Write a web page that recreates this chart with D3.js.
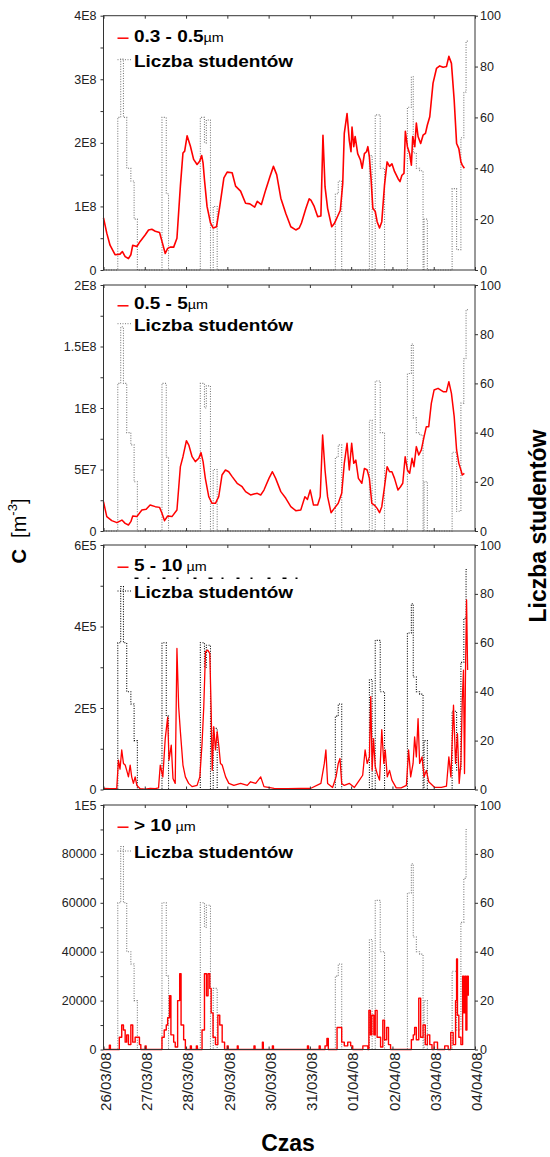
<!DOCTYPE html>
<html>
<head>
<meta charset="utf-8">
<script src="https://cdn.jsdelivr.net/npm/d3@7"></script>
<style>
  body { margin: 0; background: #fff; }
  text { font-family: Arial, "Liberation Sans", sans-serif; }
</style>
</head>
<body>
<svg id="chart" width="550" height="1157"></svg>
<script>
// Stezenie czastek i liczba studentow, 26/03/08 - 04/04/08

// os czasu
var dayLabels = ["26/03/08", "27/03/08", "28/03/08", "29/03/08", "30/03/08",
                 "31/03/08", "01/04/08", "02/04/08", "03/04/08", "04/04/08"];

// liczba studentow (godziny od 26/03/08 00:00, schodkowo)
var studentHours = [0, 8.3, 10.0, 11.6, 13.5, 15.9, 17.8, 19.7,
                    34.0, 36.5, 37.8,
                    56.3, 58.7, 59.8, 62.2, 63.8, 66.1,
                    134.8, 136.5, 138.5,
                    154.6, 156.2, 158.0, 160.9, 163.4,
                    176.7, 179.0, 180.1, 181.9, 183.8, 185.8, 186.4, 188.3,
                    202.7, 205.3, 207.8, 209.5, 210.8, 211.8];
var studentCount = [0, 60, 83, 60, 40, 35, 20, 0,
                    60, 30, 0,
                    60, 50, 59, 0, 25, 0,
                    30, 35, 0,
                    45, 0, 61, 40, 0,
                    64, 76, 46, 40, 39, 0, 20, 0,
                    32, 8, 52, 70, 90, 90];

// 0.3 - 0.5 um  [x 1E8 m-3]
var hours03 = [0, 1.9, 3.8, 6.7, 9.6, 11.0, 12.6, 14.5, 15.9, 17.0, 19.4, 21.3, 24.2, 26.2, 28.1, 30.1,
  32.6, 34.0, 35.9, 37.3, 38.8, 40.8, 42.7, 44.7, 46.2, 47.2, 48.6, 50.5, 52.4, 54.4, 55.9, 57.1,
  57.9, 58.7, 60.2, 62.2, 63.8, 65.7, 67.6, 70.0, 71.9, 74.8, 76.8, 79.7, 82.6, 85.1, 87.9, 89.4,
  91.8, 94.3, 96.8, 98.8, 100.7, 103.1, 106.0, 108.9, 111.8, 113.8, 115.1, 117.7, 119.6, 120.6,
  122.5, 124.5, 126.4, 127.6, 128.8, 130.3, 132.7, 134.2, 136.2, 137.7, 139.1, 140.0, 141.6, 142.9,
  143.9, 144.5, 145.5, 146.3, 147.8, 149.4, 150.4, 151.7, 152.9, 153.7, 154.6, 155.6, 156.6, 158.0,
  159.1, 160.5, 161.8, 163.4, 164.9, 166.3, 167.7, 169.2, 171.2, 172.4, 173.5, 174.7, 175.5, 176.7,
  178.0, 179.0, 179.8, 181.0, 181.9, 182.9, 184.4, 185.8, 187.2, 188.3, 189.7, 191.6, 193.6, 195.5,
  197.5, 199.4, 200.8, 202.3, 203.9, 205.3, 206.6, 207.8, 208.6, 209.8];
var conc03 = [0.82, 0.58, 0.39, 0.24, 0.25, 0.29, 0.21, 0.18, 0.24, 0.39, 0.37, 0.45, 0.55, 0.63, 0.64, 0.61,
  0.59, 0.45, 0.26, 0.34, 0.36, 0.36, 0.50, 1.32, 1.84, 1.87, 2.11, 1.95, 1.74, 1.66, 1.71, 1.80,
  1.68, 1.42, 1.00, 0.74, 0.66, 0.68, 1.00, 1.45, 1.54, 1.53, 1.32, 1.24, 1.05, 1.04, 0.99, 1.08,
  1.03, 1.26, 1.47, 1.63, 1.50, 1.13, 0.89, 0.68, 0.63, 0.66, 0.74, 0.97, 1.12, 1.10,
  1.00, 0.84, 0.85, 2.12, 1.31, 0.97, 0.68, 0.73, 0.85, 0.94, 1.36, 2.15, 2.46, 2.04,
  1.86, 2.25, 1.94, 2.10, 1.83, 1.73, 1.60, 1.83, 1.86, 1.94, 1.78, 1.42, 0.97, 0.92,
  0.76, 0.66, 0.76, 1.34, 1.70, 1.63, 1.67, 1.55, 1.44, 1.39, 1.49, 1.52, 2.18, 1.94,
  1.83, 1.65, 2.10, 1.94, 2.31, 2.10, 1.99, 2.12, 2.15, 2.28, 2.41, 2.94, 3.17, 3.21,
  3.19, 3.20, 3.36, 3.25, 2.67, 1.99, 1.91, 1.70, 1.65, 1.60];

// 0.5 - 5 um  [x 1E7 m-3]
var hours05 = [0, 1.9, 4.8, 7.8, 10.7, 12.6, 14.5, 15.9, 17.0, 19.4, 22.3, 24.8, 27.1, 30.1, 32.6, 34.0,
  35.5, 37.3, 39.8, 42.7, 44.7, 46.2, 48.2, 49.6, 51.5, 53.4, 55.4, 56.7, 57.9, 59.2, 61.2, 63.1,
  65.1, 67.0, 68.9, 70.9, 72.8, 74.8, 77.7, 80.6, 82.6, 85.5, 87.5, 89.4, 91.4, 93.3, 96.2, 98.2,
  100.1, 103.1, 106.0, 108.9, 111.8, 114.7, 117.1, 118.6, 120.2, 122.1, 124.5, 126.0, 127.4, 128.8,
  130.3, 132.3, 134.2, 136.5, 138.5, 140.0, 141.6, 142.9, 144.3, 145.5, 146.7, 148.2, 150.2, 151.7,
  153.3, 154.6, 156.0, 157.5, 159.1, 160.5, 161.8, 163.4, 164.9, 166.3, 167.7, 169.2, 171.2, 172.7,
  174.0, 175.4, 176.7, 178.0, 179.4, 180.5, 181.9, 183.3, 184.8, 186.4, 187.7, 189.1, 190.6, 192.2,
  194.5, 197.5, 199.4, 200.8, 202.3, 203.9, 205.3, 206.6, 207.8, 208.6, 209.8];
var conc05 = [2.38, 1.17, 0.84, 0.68, 0.89, 0.62, 0.49, 0.76, 1.22, 1.17, 1.71, 1.76, 2.11, 1.98, 1.92, 1.44,
  0.84, 1.22, 1.17, 1.71, 5.23, 6.04, 7.34, 6.99, 6.04, 5.64, 5.91, 6.37, 5.64, 4.28, 2.79, 2.25,
  2.25, 2.79, 4.55, 4.96, 4.82, 4.42, 3.88, 3.60, 3.20, 2.93, 3.01, 3.06, 2.93, 3.33, 4.28, 4.82,
  4.28, 3.20, 2.66, 1.98, 1.65, 1.71, 2.79, 2.57, 3.33, 2.11, 2.11, 2.79, 7.80, 4.96,
  2.79, 1.49, 1.84, 2.25, 3.06, 5.50, 7.13, 4.96, 7.13, 5.50, 5.77, 4.28, 3.88, 5.09,
  4.96, 4.28, 2.25, 2.11, 1.84, 1.49, 1.98, 3.60, 5.23, 4.82, 4.82, 4.28, 3.33, 3.60,
  3.88, 6.04, 4.96, 4.69, 5.91, 5.23, 6.86, 6.18, 6.59, 7.67, 8.48, 8.48, 10.38, 11.46,
  11.60, 11.33, 11.33, 12.14, 11.19, 9.30, 6.59, 5.50, 4.96, 4.55, 4.69];

// 5 - 10 um  [x 1E5 m-3]
var hours510 = [0, 3.8, 7.7, 8.7, 9.6, 10.6, 11.6, 12.6, 13.5, 14.5, 15.5, 16.4, 17.4, 18.4, 19.4, 21.3,
  24.2, 27.2, 30.1, 32.0, 33.0, 34.5, 35.9, 37.3, 38.1, 39.4, 40.4, 41.7, 42.7, 43.7, 44.7, 46.2,
  47.6, 49.5, 51.5, 54.4, 56.0, 57.3, 58.3, 59.3, 60.6, 61.8, 62.6, 63.2, 64.1, 65.1, 66.1, 67.1,
  68.0, 69.0, 71.0, 72.9, 75.8, 79.7, 83.6, 85.5, 88.5, 91.4, 93.3, 99.2, 106.9, 114.7, 120.6,
  126.4, 128.4, 129.3, 130.3, 133.2, 135.2, 136.5, 137.5, 138.5, 140.0, 143.0, 145.9, 148.8, 150.7,
  152.1, 153.3, 154.6, 155.4, 156.2, 157.0, 158.0, 159.1, 160.5, 161.8, 163.0, 163.8, 165.0, 166.3,
  167.7, 170.2, 173.1, 176.1, 177.4, 178.6, 180.0, 180.9, 181.9, 182.9, 183.8, 185.2, 186.4, 187.7,
  189.1, 192.6, 196.5, 199.4, 200.8, 202.0, 203.5, 204.7, 205.8, 206.8, 207.8, 208.6, 209.3, 209.9,
  210.5, 211.1, 211.7];
var conc510 = [0.03, 0.02, 0.03, 0.72, 0.50, 0.97, 0.64, 0.60, 0.47, 0.31, 0.60, 0.31, 0.15, 0.31, 0.10, 0.02,
  0.01, 0.03, 0.02, 0.04, 0.60, 0.31, 1.25, 1.77, 0.72, 1.09, 0.27, 0.15, 3.46, 2.03, 1.42, 0.60,
  0.31, 0.15, 0.07, 0.10, 0.31, 1.13, 2.03, 3.38, 3.42, 3.34, 1.95, 0.47, 1.54, 0.97, 1.42, 1.05,
  0.64, 0.60, 0.31, 0.15, 0.10, 0.15, 0.10, 0.19, 0.15, 0.31, 0.07, 0.03, 0.02, 0.03, 0.03,
  0.15, 0.64, 0.97, 0.15, 0.05, 0.31, 0.64, 0.76, 0.15, 0.10, 0.15, 0.05, 0.23, 0.35,
  0.97, 0.64, 0.80, 2.28, 0.47, 1.25, 0.56, 0.39, 0.23, 1.47, 0.64, 0.97, 0.31, 0.47,
  0.23, 0.04, 0.04, 0.10, 0.97, 0.31, 0.64, 1.29, 0.80, 1.74, 0.64, 0.80, 0.31, 0.47,
  0.19, 0.05, 0.05, 0.08, 0.80, 0.31, 2.07, 0.64, 1.37, 0.15, 0.64, 2.19, 2.93, 0.39,
  2.97, 4.65, 2.93];

// > 10 um  [x 1000 m-3]
var hours10 = [0, 2.8, 3.4, 4.0, 8.7, 9.2, 10.6, 11.6, 12.6, 13.5, 14.5, 15.9, 17.0, 18.4, 19.8, 20.9,
  21.7, 24.2, 24.8, 33.0, 34.0, 35.3, 36.5, 37.3, 38.4, 39.2, 40.8, 41.7, 43.1, 44.3, 45.1, 46.6,
  47.6, 50.5, 51.1, 54.0, 54.6, 56.7, 57.3, 58.7, 59.9, 60.8, 61.8, 62.6, 63.7, 65.1, 66.5, 67.6,
  69.0, 70.4, 71.9, 72.5, 77.8, 78.3, 87.5, 88.1, 92.4, 92.9, 98.2, 98.8, 118.6, 119.2,
  125.4, 126.0, 128.8, 129.9, 130.7, 135.2, 135.8, 137.3, 138.5, 140.0, 142.0, 143.7, 144.9,
  150.8, 152.7, 153.7, 154.3, 155.2, 156.0, 157.2, 158.0, 159.1, 159.9, 161.1, 162.4, 163.4, 164.6,
  165.7, 166.9, 178.0, 179.0, 180.1, 180.9, 181.9, 183.3, 184.4, 185.8, 187.1, 188.3, 189.7, 191.0,
  192.2, 193.6, 194.2, 198.4, 199.6, 200.4, 201.9, 203.3, 204.7, 205.3, 205.8, 206.6, 207.8, 208.8,
  209.5, 210.1, 210.7, 211.3, 212.1];
var conc10 = [0, 0, 1.8, 0, 0, 5, 10, 8, 3, 6, 2, 10, 3, 5, 5, 2,
  0, 1.5, 0, 0, 5, 8, 10, 13, 22, 6, 3, 1, 20, 31, 10, 4,
  0, 1.5, 0, 1.5, 0, 0, 8, 31, 22, 31, 25, 15, 5, 2, 14, 10,
  3, 0, 1.5, 0, 1.5, 0, 1.5, 0, 3, 0, 1.5, 0, 1.5, 0,
  1.5, 0, 1.5, 4.5, 0, 0, 9, 9, 3, 1.5, 3, 1.5, 0,
  1.5, 1.5, 0, 16, 6, 14, 6, 16, 5, 5, 1, 12, 4, 9,
  2, 0, 0, 4, 6, 9, 4, 21, 5, 10, 2, 6, 2, 0,
  3, 3, 0, 1.5, 1.5, 0, 7, 2, 20, 37, 14, 5, 2, 30,
  15, 30, 8, 30, 22];

// osie lewe
var ticks03 = [0, 1e8, 2e8, 3e8, 4e8], labels03 = ["0", "1E8", "2E8", "3E8", "4E8"];
var ticks05 = [0, 5e7, 1e8, 1.5e8, 2e8], labels05 = ["0", "5E7", "1E8", "1.5E8", "2E8"];
var ticks510 = [0, 2e5, 4e5, 6e5], labels510 = ["0", "2E5", "4E5", "6E5"];
var ticks10 = [0, 2e4, 4e4, 6e4, 8e4, 1e5], labels10 = ["0", "20000", "40000", "60000", "80000", "1E5"];
var studentTicks = [0, 20, 40, 60, 80, 100];

var panels = [
  { hours: hours03, values: conc03, unit: 1e8, max: 4e8, ticks: ticks03, labels: labels03,
    name: "0.3 - 0.5", nameGap: "", top: 15.7, bottom: 270, studColor: "#7a7a7a", curve: d3.curveLinear, width: 1.6 },
  { hours: hours05, values: conc05, unit: 1e7, max: 2e8, ticks: ticks05, labels: labels05,
    name: "0.5 - 5", nameGap: "", top: 285, bottom: 531, studColor: "#7a7a7a", curve: d3.curveLinear, width: 1.5 },
  { hours: hours510, values: conc510, unit: 1e5, max: 6e5, ticks: ticks510, labels: labels510,
    name: "5 - 10", nameGap: " ", top: 545, bottom: 789.5, studColor: "#000", curve: d3.curveLinear, width: 1.3 },
  { hours: hours10, values: conc10, unit: 1e3, max: 1e5, ticks: ticks10, labels: labels10,
    name: "> 10", nameGap: " ", top: 805, bottom: 1049.5, studColor: "#7a7a7a", curve: d3.curveStepAfter, width: 1.4 }
];

var svg = d3.select("#chart");
var left = 103.5, right = 475;
var t0 = new Date(Date.UTC(2008, 2, 26)), t1 = new Date(Date.UTC(2008, 3, 4));
function toDate(h) { return new Date(t0.getTime() + h * 3600e3); }

var x = d3.scaleUtc().domain([t0, t1]).range([left, right]);
var days = d3.utcDay.range(t0, d3.utcDay.offset(t1, 1));

panels.forEach(function(p, i) {
  var y = d3.scaleLinear().domain([0, p.max]).range([p.bottom, p.top]);
  var yS = d3.scaleLinear().domain([0, 100]).range([p.bottom, p.top]);
  var g = svg.append("g");

  // liczba studentow
  var studLine = d3.line()
      .curve(d3.curveStepAfter)
      .x(function(d, k) { return x(toDate(studentHours[k])); })
      .y(function(d) { return yS(d); });
  g.append("path")
      .attr("d", studLine(studentCount))
      .attr("fill", "none")
      .attr("stroke", p.studColor)
      .attr("stroke-width", 1.1)
      .attr("stroke-dasharray", "1,1.5");

  // stezenie
  var line = d3.line()
      .curve(p.curve)
      .x(function(d, k) { return x(toDate(p.hours[k])); })
      .y(function(d) { return y(d * p.unit); });
  g.append("path")
      .attr("d", line(p.values))
      .attr("fill", "none")
      .attr("stroke", "#ff0000")
      .attr("stroke-width", p.width)
      .attr("stroke-linejoin", "round");

  // ramka
  g.append("rect")
      .attr("x", left).attr("y", p.top)
      .attr("width", right - left).attr("height", p.bottom - p.top)
      .attr("fill", "none").attr("stroke", "#333").attr("stroke-width", 1);

  // lewa os (z podzialka posrednia)
  var minor = [];
  for (var k = 0; k < p.ticks.length - 1; k++) minor.push((p.ticks[k] + p.ticks[k + 1]) / 2);
  g.append("g").attr("transform", "translate(" + left + ",0)")
      .call(d3.axisLeft(y).tickValues(p.ticks).tickSize(3).tickPadding(4)
        .tickFormat(function(d, k) { return p.labels[k]; }));
  g.append("g").attr("transform", "translate(" + left + ",0)")
      .call(d3.axisLeft(y).tickValues(minor).tickSize(3).tickFormat(""));

  // prawa os
  g.append("g").attr("transform", "translate(" + right + ",0)")
      .call(d3.axisRight(yS).tickValues(studentTicks).tickSize(3).tickPadding(2));

  // podzialka czasu (do srodka)
  g.append("g").attr("transform", "translate(0," + p.bottom + ")")
      .call(d3.axisBottom(x).tickValues(days).tickSize(-3).tickFormat(""));
  g.append("g").attr("transform", "translate(0," + p.top + ")")
      .call(d3.axisTop(x).tickValues(days).tickSize(-3).tickFormat(""));

  g.selectAll(".domain").attr("stroke", "none");
  g.selectAll(".tick line").attr("stroke", "#333");
  g.selectAll(".tick text").attr("fill", "#222").style("font-size", "12.5px");

  // legenda
  var b1 = p.top + (i === 0 ? 26 : (i === 1 ? 24.3 : 25.7));
  var b2 = p.top + (i === 0 ? 51 : (i === 1 ? 45.7 : 53));
  var leg = g.append("g").attr("transform", "translate(" + 117.5 + ",0)");
  leg.append("line")
      .attr("x1", 0).attr("x2", 11).attr("y1", b1 - 3.5).attr("y2", b1 - 3.5)
      .attr("stroke", "#ff0000").attr("stroke-width", 1.5);
  leg.append("line")
      .attr("x1", 0).attr("x2", 14).attr("y1", b2 - 7).attr("y2", b2 - 7)
      .attr("stroke", p.studColor).attr("stroke-dasharray", "1,1.5");

  if (i === 2) {
    // slady przykrytego podpisu miedzy wierszami legendy
    leg.append("line")
        .attr("x1", 17).attr("x2", 190).attr("y1", b1 + 7.5).attr("y2", b1 + 7.5)
        .attr("stroke", "#000").attr("stroke-width", 1.5)
        .attr("stroke-dasharray", "4,9,2,13,3,11,2,15,3,12");
  }

  var t1g = leg.append("text")
      .attr("transform", "translate(16.5," + b1 + ") scale(1.15,1)")
      .style("font-size", "16.5px").attr("fill", "#000");
  t1g.append("tspan").style("font-weight", "bold").text(p.name);
  t1g.append("tspan").style("font-size", "12.5px").attr("xml:space", "preserve").text(p.nameGap + "\u00b5m");

  leg.append("text")
      .attr("transform", "translate(16.5," + b2 + ") scale(1.15,1)")
      .style("font-size", "16.5px").style("font-weight", "bold").attr("fill", "#000")
      .text("Liczba studentów");
});

// etykiety dat pod ostatnim panelem
var last = panels[panels.length - 1];
var xa = svg.append("g").attr("transform", "translate(0," + last.bottom + ")")
    .call(d3.axisBottom(x).tickValues(days).tickSize(0)
      .tickFormat(function(d, k) { return dayLabels[k]; }));
xa.select(".domain").attr("stroke", "none");
xa.selectAll("text")
    .attr("transform", "rotate(-90)")
    .attr("x", -3).attr("y", 1.5).attr("dy", "0.35em")
    .style("text-anchor", "end").style("font-size", "15px").attr("fill", "#222");

// tytuly osi
svg.append("text")
    .attr("x", 288).attr("y", 1151)
    .attr("text-anchor", "middle")
    .style("font-size", "23px").style("font-weight", "bold")
    .text("Czas");

var yt = svg.append("text")
    .attr("transform", "translate(26,531) rotate(-90)")
    .attr("text-anchor", "middle")
    .style("font-size", "20px").attr("xml:space", "preserve");
yt.append("tspan").style("font-weight", "bold").text("C");
yt.append("tspan").text("  [m");
yt.append("tspan").attr("dy", -9).style("font-size", "13px").text("-3");
yt.append("tspan").attr("dy", 9).text("]");

svg.append("text")
    .attr("transform", "translate(546,526) rotate(-90)")
    .attr("text-anchor", "middle")
    .style("font-size", "23px").style("font-weight", "bold")
    .text("Liczba studentów");
</script>
</body>
</html>
